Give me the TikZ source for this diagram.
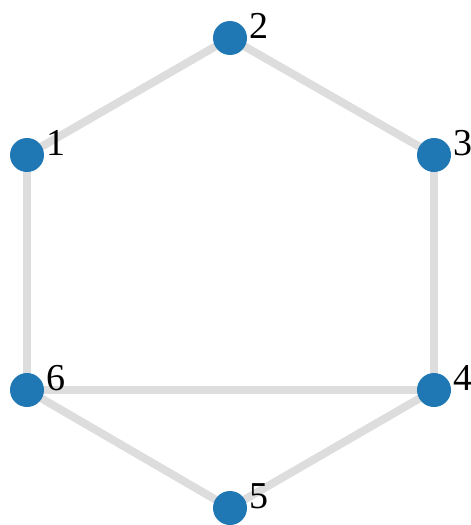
\documentclass[tikz,border=0pt]{standalone}
\usepackage{fontspec}
\setmainfont{Liberation Serif}
\definecolor{nodeblue}{RGB}{31,119,180}
\definecolor{edgegray}{RGB}{221,221,221}
\tikzset{
  vertex/.style={circle, fill=nodeblue, minimum size=34pt, inner sep=0pt},
  tag/.style={anchor=base west, inner sep=0pt, font=\fontsize{38}{42}\selectfont},
  link/.style={edgegray, line width=8pt}
}
\begin{document}
\begin{tikzpicture}[x=1pt, y=-1pt]
  \useasboundingbox (0,0) rectangle (471,525);
  \foreach \N/\X/\Y in {1/27/155, 2/230/38, 3/434/155, 4/434/390, 5/230/508, 6/27/390} {
    \coordinate (p\N) at (\X,\Y);
  }
  \foreach \A/\B in {1/2, 2/3, 3/4, 4/6, 6/1, 6/5, 5/4} {
    \draw[link] (p\A) -- (p\B);
  }
  \foreach \N in {1,...,6} {
    \node[vertex] (v\N) at (p\N) {};
    \node[tag] (t\N) at ([xshift=19pt]v\N.center) {\N};
  }
\end{tikzpicture}
\end{document}
